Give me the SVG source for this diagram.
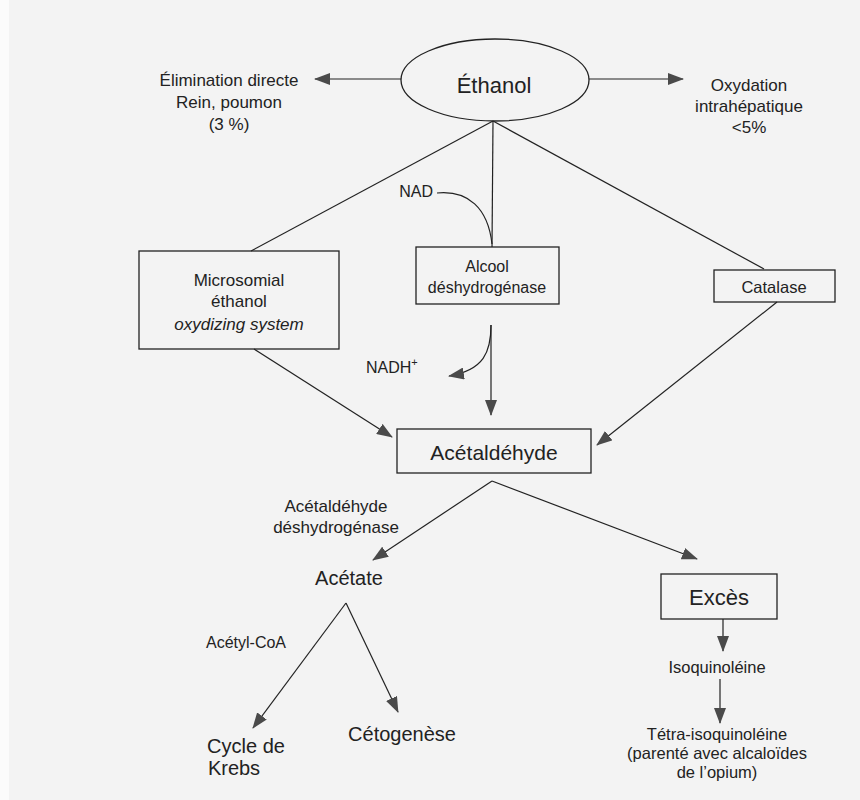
<svg xmlns="http://www.w3.org/2000/svg" width="860" height="800" viewBox="0 0 860 800">
<defs>
<marker id="ah" markerUnits="userSpaceOnUse" markerWidth="16" markerHeight="12" refX="15" refY="6" orient="auto">
<path d="M0,0 L16,6 L0,12 Z" fill="#4a4a4a"/>
</marker>
</defs>
<style>
text{font-family:"Liberation Sans",Arial,sans-serif;fill:#222;text-anchor:middle}
.box{fill:none;stroke:#222;stroke-width:1.3}
.ln{fill:none;stroke:#222;stroke-width:1.2}
.ar{fill:none;stroke:#222;stroke-width:1.2;marker-end:url(#ah)}
</style>
<rect x="0" y="0" width="860" height="800" fill="#f3f3f3"/>
<rect x="0" y="0" width="9" height="800" fill="#fbfbfb"/>

<g id="connectors">
<path class="ar" d="M401,79 L315,79"/>
<path class="ar" d="M589,79 L683,79"/>
<path class="ln" d="M493,121 L251,251"/>
<path class="ln" d="M493,121 L492,247"/>
<path class="ln" d="M493,121 L764,269"/>
<path class="ln" d="M437,193 C468,190 488,208 492,244"/>
<path class="ar" d="M491,325 C491,352 484,370 449,376"/>
<path class="ar" d="M491,325 L491,415"/>
<path class="ar" d="M254,349 L392,437"/>
<path class="ar" d="M777,302 L597,445"/>
<path class="ar" d="M492,481 L373,560"/>
<path class="ar" d="M492,481 L697,559"/>
<path class="ar" d="M346,603 L253,728"/>
<path class="ar" d="M346,603 L398,712"/>
<path class="ar" d="M723,619 L723,651"/>
<path class="ar" d="M720,679 L720,723"/>
</g>

<g id="ethanol">
<ellipse cx="495" cy="80" rx="94" ry="41" class="box"/>
<text x="494" y="93" font-size="22">Éthanol</text>
</g>
<g id="elimination">
<text x="229" y="86" font-size="17">Élimination directe</text>
<text x="229" y="108" font-size="17">Rein, poumon</text>
<text x="229" y="130" font-size="17">(3 %)</text>
</g>
<g id="oxydation">
<text x="749" y="91" font-size="17">Oxydation</text>
<text x="749" y="112" font-size="17">intrahépatique</text>
<text x="749" y="133" font-size="17">&lt;5%</text>
</g>
<g id="meos">
<rect x="139" y="251" width="200" height="98" class="box"/>
<text x="239" y="286" font-size="17">Microsomial</text>
<text x="239" y="307" font-size="17">éthanol</text>
<text x="239" y="330" font-size="17" font-style="italic">oxydizing system</text>
</g>
<g id="adh">
<rect x="416" y="247" width="143" height="57" class="box"/>
<text x="487" y="272" font-size="16">Alcool</text>
<text x="487" y="293" font-size="16">déshydrogénase</text>
</g>
<g id="nad">
<text x="433" y="197" font-size="16" style="text-anchor:end">NAD</text>
</g>
<g id="nadh">
<text x="366" y="373" font-size="16" style="text-anchor:start">NADH<tspan dy="-7" font-size="11">+</tspan></text>
</g>
<g id="catalase">
<rect x="714" y="270" width="121" height="32" class="box"/>
<text x="774" y="293" font-size="16.5">Catalase</text>
</g>
<g id="acetaldehyde">
<rect x="397" y="429" width="194" height="44" class="box"/>
<text x="494" y="460" font-size="21">Acétaldéhyde</text>
</g>
<g id="aldh">
<text x="336" y="512" font-size="17">Acétaldéhyde</text>
<text x="336" y="533" font-size="17">déshydrogénase</text>
</g>
<g id="acetate">
<text x="349" y="585" font-size="20">Acétate</text>
</g>
<g id="acetylcoa">
<text x="246" y="648" font-size="16">Acétyl-CoA</text>
</g>
<g id="krebs">
<text x="246" y="753" font-size="20">Cycle de</text>
<text x="234" y="775" font-size="20">Krebs</text>
</g>
<g id="cetogenese">
<text x="402" y="741" font-size="20">Cétogenèse</text>
</g>
<g id="exces">
<rect x="661" y="574" width="116" height="45" class="box"/>
<text x="719" y="605" font-size="22">Excès</text>
</g>
<g id="isoquinoleine">
<text x="717" y="673" font-size="16.5">Isoquinoléine</text>
</g>
<g id="tetra">
<text x="717" y="740" font-size="16.5">Tétra-isoquinoléine</text>
<text x="717" y="759" font-size="16.5">(parenté avec alcaloïdes</text>
<text x="717" y="778" font-size="16.5">de l’opium)</text>
</g>
</svg>
